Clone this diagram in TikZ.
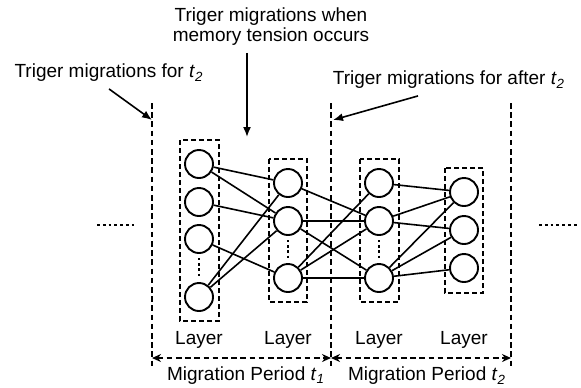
\documentclass[tikz,border=0pt]{standalone}
\usepackage{fontspec}
\setmainfont{Liberation Sans}
\usetikzlibrary{arrows.meta}
\newcommand{\tsub}[1]{\textit{t}\textsubscript{\textit{#1}}}

\begin{document}
\begin{tikzpicture}[x=0.5pt, y=-0.5pt,
    every node/.style={font=\fontsize{9.5}{10}\selectfont},
    neuron/.style={draw, circle, line width=0.95pt, minimum size=14pt, inner sep=0pt},
    layerbox/.style={line width=0.8pt, dash pattern=on 2.5pt off 1.5pt},
    border/.style={line width=0.8pt, dash pattern=on 2.8pt off 1.8pt},
    link/.style={line width=0.8pt},
    vdots/.style={line width=1.2pt, dash pattern=on 1.2pt off 1.4pt},
    hdots/.style={line width=1.35pt, dash pattern=on 1.35pt off 1.55pt}]
    \useasboundingbox (0,0) rectangle (581,387);

    % borders of the migration periods
    \coordinate (s1top) at (152,103);
    \coordinate (s1bot) at (152,367);
    \coordinate (s2top) at (331,103);
    \coordinate (s2bot) at (331,367);
    \coordinate (s3top) at (511,103);
    \coordinate (s3bot) at (511,367);
    \draw[border] (s1top) -- (s1bot);
    \draw[border] (s2top) -- (s2bot);
    \draw[border] (s3top) -- (s3bot);

    % neurons
    \foreach \i/\y in {1/164, 2/202, 3/239, 4/297} {
      \node[neuron] (a\i) at (199,\y) {};
    }
    \foreach \i/\y in {1/183, 2/221, 3/278} {
      \node[neuron] (b\i) at (288,\y) {};
      \node[neuron] (c\i) at (379,\y) {};
    }
    \foreach \i/\y in {1/192, 2/230, 3/268} {
      \node[neuron] (d\i) at (464,\y) {};
    }

    \draw[layerbox] (180,140) rectangle (219,321);
    \draw[layerbox] (269,159) rectangle (307,302);
    \draw[layerbox] (360,159) rectangle (399,302);
    \draw[layerbox] (445,168) rectangle (483,293);

    \draw[vdots] (199,258) -- (199,278);
    \draw[vdots] (288,240) -- (288,259);
    \draw[vdots] (379,240) -- (379,259);

    \draw[hdots] (97,225) -- (134,225);
    \draw[hdots] (539,225) -- (577,225);

    % links between the layers
    \foreach \u/\v in {a1/b1, a1/b2, a2/b2, a3/b3, a4/b1, a4/b2,
                       b1/c2, b2/c2, b2/c3, b3/c1, b3/c2, b3/c3,
                       c1/d1, c2/d1, c2/d2, c3/d1, c3/d2, c3/d3} {
      \draw[link] (\u) -- (\v);
    }

    \foreach \i/\x in {1/199, 2/288, 3/379, 4/464} {
      \node (lab\i) at (\x,340) {Layer};
    }

    % periods
    \coordinate (p1) at (152,358);
    \coordinate (p2) at (331,358);
    \coordinate (p3) at (511,358);
    \draw[border, {Stealth[length=4.5pt,width=4pt]}-{Stealth[length=4.5pt,width=4pt]}] (p1) -- (p2);
    \draw[border, {Stealth[length=4.5pt,width=4pt]}-{Stealth[length=4.5pt,width=4pt]}] (p2) -- (p3);
    \node (per1) at (246,376) {Migration Period \tsub{1}};
    \node (per2) at (427,376) {Migration Period \tsub{2}};

    % triggers
    \node (trig1) at (109,73) {Triger migrations for \tsub{2}};
    \node[align=center] (trig2) at (271,27) {Triger migrations when\\memory tension occurs};
    \node (trig3) at (449,80) {Triger migrations for after \tsub{2}};

    \coordinate (e1) at (152,120);
    \coordinate (e2) at (247,137);
    \coordinate (e3) at (333,120);
    \draw[link, -{Latex[length=5pt,width=4pt]}] (trig1.south) -- (e1);
    \draw[link, -{Latex[length=5pt,width=4pt]}] ([xshift=-12pt]trig2.south) -- (e2);
    \draw[link, -{Latex[length=5pt,width=4pt]}] ([xshift=-15.5pt]trig3.south) -- (e3);
\end{tikzpicture}
\end{document}
